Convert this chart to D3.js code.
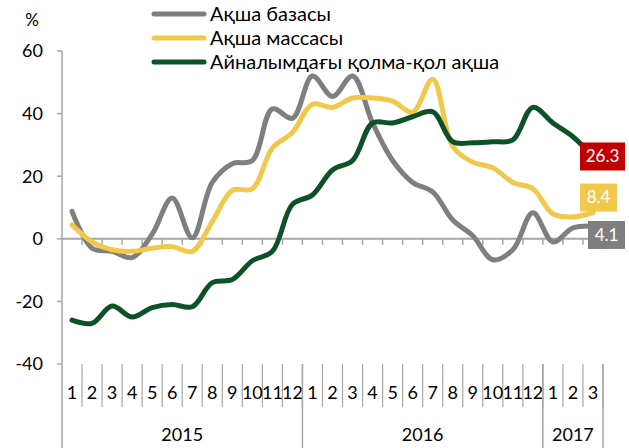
<!DOCTYPE html>
<html>
<head>
<meta charset="utf-8">
<script src="https://cdn.jsdelivr.net/npm/d3@7"></script>
<style>
  body { margin: 0; background: #fff; }
  text { font-family: Lato, "Open Sans", sans-serif; fill: #000; }
</style>
</head>
<body>
<div id="chart"></div>
<script>
// --> DATA (y/y growth, %)
var months = [1,2,3,4,5,6,7,8,9,10,11,12, 1,2,3,4,5,6,7,8,9,10,11,12, 1,2,3];
var years = ["2015", "2016", "2017"];
var yearLengths = [12, 12, 3];

var baseMoney = [8.8, -3, -4, -6, 1.5, 13, 0.3, 18, 24, 25, 41.5, 38.5, 52, 45.5, 52, 37, 25, 18, 15, 6, 1, -6.7, -3.5, 8.3, -1, 3.5, 4.1];
var moneySupply = [4.5, -1, -3.5, -4, -3, -2.5, -4, 5.5, 15.5, 16, 29, 34, 43, 42, 45, 45, 44, 40.5, 51, 29.5, 24.5, 22.7, 18, 16, 8, 7, 8.4];
var cashOutside = [-26, -27, -21.5, -25, -22, -21, -21.7, -14, -13, -7, -4, 11, 14, 22, 25, 37, 37, 39, 40.6, 31, 30.7, 31, 31.6, 42, 37, 32.6, 26.3];

var seriesNames = ["Ақша базасы", "Ақша массасы", "Айналымдағы қолма-қол ақша"];
var seriesColors = ["#7f7f7f", "#f2c84b", "#0d5226"];
var labelColors = ["#7f7f7f", "#f2c84b", "#c00000"];
var yTicks = [-40, -20, 0, 20, 40, 60];

// --> SVG
var width = 629,
    height = 448;

var svg = d3.select("#chart").append("svg")
    .attr("width", width)
    .attr("height", height);

var x = d3.scaleBand()
    .domain(d3.range(months.length))
    .range([62, 603])
    .padding(0);

var y = d3.scaleLinear()
    .domain([-40, 60])
    .range([364, 51]);

var axisColor = "#a6a6a6";
var cx = function(i) { return x(i) + x.bandwidth() / 2; };

// y axis
svg.append("line")
    .attr("x1", 62).attr("x2", 62)
    .attr("y1", y(60)).attr("y2", height)
    .attr("stroke", axisColor).attr("stroke-width", 1.5);

svg.selectAll(".ytick")
    .data(yTicks)
    .enter().append("line")
    .attr("x1", 57).attr("x2", 62)
    .attr("y1", function(d) { return y(d); })
    .attr("y2", function(d) { return y(d); })
    .attr("stroke", axisColor).attr("stroke-width", 1.5);

svg.selectAll(".ylabel")
    .data(yTicks)
    .enter().append("text")
    .attr("x", 43)
    .attr("y", function(d) { return y(d); })
    .attr("dy", "0.35em")
    .attr("text-anchor", "end")
    .style("font-size", "18px")
    .text(function(d) { return d; });

svg.append("text")
    .attr("x", 32).attr("y", 20)
    .attr("text-anchor", "middle")
    .attr("dy", "0.35em")
    .style("font-size", "17px")
    .text("%");

// zero line with ticks
svg.append("line")
    .attr("x1", 62).attr("x2", 603)
    .attr("y1", y(0)).attr("y2", y(0))
    .attr("stroke", axisColor).attr("stroke-width", 2);

svg.selectAll(".xtick")
    .data(d3.range(1, months.length + 1))
    .enter().append("line")
    .attr("x1", function(i) { return 62 + i * x.bandwidth(); })
    .attr("x2", function(i) { return 62 + i * x.bandwidth(); })
    .attr("y1", y(0)).attr("y2", y(0) + 6)
    .attr("stroke", axisColor).attr("stroke-width", 1.5);

// category axis at the bottom: month separators
svg.selectAll(".msep")
    .data(d3.range(1, months.length + 1))
    .enter().append("line")
    .attr("x1", function(i) { return 62 + i * x.bandwidth(); })
    .attr("x2", function(i) { return 62 + i * x.bandwidth(); })
    .attr("y1", 364).attr("y2", 407)
    .attr("stroke", axisColor).attr("stroke-width", 1.2);

svg.selectAll(".mlabel")
    .data(months)
    .enter().append("text")
    .attr("x", function(d, i) { return cx(i); })
    .attr("y", 393)
    .attr("dy", "0.35em")
    .attr("text-anchor", "middle")
    .style("font-size", "18px")
    .text(function(d) { return d; });

// year separators and labels
var yearStarts = [0];
yearLengths.forEach(function(n, k) { yearStarts.push(yearStarts[k] + n); });

svg.selectAll(".ysep")
    .data(yearStarts.slice(1))
    .enter().append("line")
    .attr("x1", function(s) { return 62 + s * x.bandwidth(); })
    .attr("x2", function(s) { return 62 + s * x.bandwidth(); })
    .attr("y1", 364).attr("y2", height)
    .attr("stroke", axisColor).attr("stroke-width", 1.5);

svg.selectAll(".yearlabel")
    .data(years)
    .enter().append("text")
    .attr("x", function(d, k) { return 62 + (yearStarts[k] + yearLengths[k] / 2) * x.bandwidth(); })
    .attr("y", 435)
    .attr("dy", "0.35em")
    .attr("text-anchor", "middle")
    .style("font-size", "18px")
    .text(function(d) { return d; });

// --> LINES
var line = d3.line()
    .x(function(d, i) { return cx(i); })
    .y(function(d) { return y(d); })
    .curve(d3.curveCatmullRom.alpha(0.5));

var allSeries = [baseMoney, moneySupply, cashOutside];

svg.selectAll(".series")
    .data(allSeries)
    .enter().append("path")
    .attr("d", line)
    .attr("fill", "none")
    .attr("stroke", function(d, k) { return seriesColors[k]; })
    .attr("stroke-width", 5)
    .attr("stroke-linejoin", "round")
    .attr("stroke-linecap", "round");

// --> END VALUE LABELS
var last = months.length - 1;
var labelShift = [9, -15, 0];
var labelWidth = [37, 37, 45];
var labelLeft = [588, 580, 580];

allSeries.forEach(function(s, k) {
    var v = s[last];
    var yc = y(v) + labelShift[k];
    svg.append("rect")
        .attr("x", labelLeft[k])
        .attr("y", yc - 14)
        .attr("width", labelWidth[k])
        .attr("height", 28)
        .attr("fill", labelColors[k]);
    svg.append("text")
        .attr("x", labelLeft[k] + labelWidth[k] / 2)
        .attr("y", yc)
        .attr("dy", "0.35em")
        .attr("text-anchor", "middle")
        .style("font-size", "17px")
        .style("fill", "#fff")
        .text(d3.format(".1f")(v));
});

// --> LEGEND
var legend = svg.selectAll(".legend")
    .data(seriesNames)
    .enter().append("g")
    .attr("transform", function(d, k) { return "translate(152," + (14 + k * 24) + ")"; });

legend.append("line")
    .attr("x1", 2).attr("x2", 52)
    .attr("stroke", function(d, k) { return seriesColors[k]; })
    .attr("stroke-width", 5)
    .attr("stroke-linecap", "round");

legend.append("text")
    .attr("x", 58)
    .attr("dy", "0.35em")
    .style("font-size", "20px")
    .text(function(d) { return d; });
</script>
</body>
</html>
